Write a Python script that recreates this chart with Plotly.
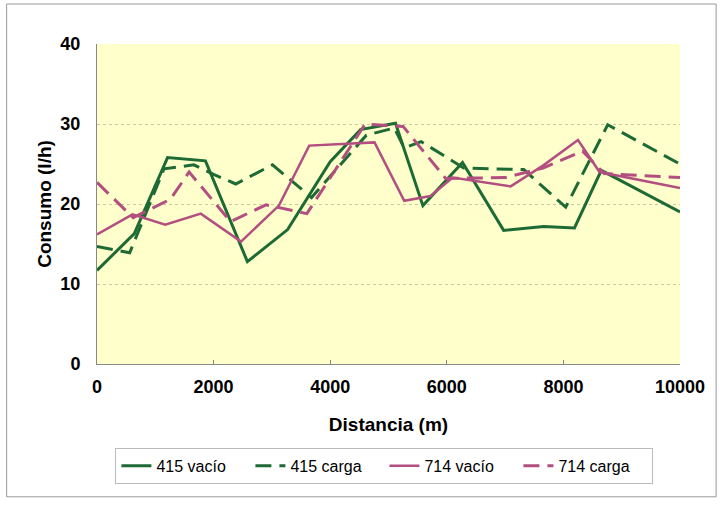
import plotly.graph_objects as go

# Data
x_415_vacio = [0, 640, 1210, 1860, 2580, 3270, 4000, 4520, 5120, 5590, 6270, 6975, 7660, 8190, 8650, 10000]
y_415_vacio = [11.7, 16.3, 25.8, 25.4, 12.8, 16.8, 25.3, 29.3, 30.1, 19.8, 25.2, 16.7, 17.2, 17.0, 24.2, 19.0]

x_415_carga = [0, 560, 1150, 1660, 2000, 2380, 3010, 3680, 4620, 5100, 5270, 5560, 6290, 7320, 8040, 8760, 10000]
y_415_carga = [14.7, 13.9, 24.4, 24.9, 23.7, 22.5, 24.9, 20.8, 28.6, 29.5, 27.0, 27.8, 24.5, 24.3, 19.6, 29.9, 25.0]

x_714_vacio = [0, 610, 1170, 1780, 2470, 3120, 3640, 4760, 5270, 5720, 6100, 7095, 7650, 8250, 8620, 10000]
y_714_vacio = [16.2, 18.7, 17.4, 18.8, 15.3, 19.8, 27.3, 27.7, 20.4, 21.0, 23.3, 22.2, 24.8, 28.0, 24.0, 22.0]

x_714_carga = [0, 620, 1260, 1580, 2290, 2900, 3600, 4600, 5250, 5980, 7000, 7650, 8330, 8700, 10000]
y_714_carga = [22.7, 18.3, 20.6, 24.0, 17.8, 19.9, 18.8, 30.0, 29.7, 23.2, 23.3, 24.5, 26.6, 23.8, 23.3]

series_names = ["415 vacío", "415 carga", "714 vacío", "714 carga"]
x_ticks = [0, 2000, 4000, 6000, 8000, 10000]
x_tick_text = ["0", "2000", "4000", "6000", "8000", "10000"]
y_ticks = [0, 10, 20, 30, 40]

GREEN = "#1e6a34"
PINK = "#b24f80"
DASH = "16px,8px"

fig = go.Figure()
fig.add_trace(go.Scatter(x=x_415_vacio, y=y_415_vacio, mode="lines", name=series_names[0],
                         line=dict(color=GREEN, width=3)))
fig.add_trace(go.Scatter(x=x_415_carga, y=y_415_carga, mode="lines", name=series_names[1],
                         line=dict(color=GREEN, width=3, dash=DASH)))
fig.add_trace(go.Scatter(x=x_714_vacio, y=y_714_vacio, mode="lines", name=series_names[2],
                         line=dict(color=PINK, width=2.5)))
fig.add_trace(go.Scatter(x=x_714_carga, y=y_714_carga, mode="lines", name=series_names[3],
                         line=dict(color=PINK, width=3, dash=DASH)))

font_family = "Liberation Sans, Arial, sans-serif"

fig.update_layout(
    width=720, height=507,
    margin=dict(l=97, r=40, t=44, b=143),
    paper_bgcolor="white",
    plot_bgcolor="#ffffcc",
    font=dict(family=font_family, size=17, color="black"),
    showlegend=True,
    legend=dict(
        orientation="h",
        x=0.493, xanchor="center",
        y=-0.318, yanchor="middle",
        bgcolor="white",
        bordercolor="#bbbbbb", borderwidth=1,
        font=dict(family=font_family, size=16, color="black"),
        entrywidth=89, entrywidthmode="pixels",
        tracegroupgap=0,
    ),
    xaxis=dict(
        range=[0, 10000],
        tickvals=x_ticks,
        ticktext=x_tick_text,
        tickfont=dict(family=font_family, size=18, color="black", weight="bold"),
        showgrid=False,
        zeroline=False,
        showline=True, linecolor="#888888", linewidth=1,
        ticks="inside", ticklen=4, tickcolor="#888888",
        ticklabelstandoff=6,
        title=dict(text="<b>Distancia (m)</b>", font=dict(family=font_family, size=19), standoff=22),
    ),
    yaxis=dict(
        range=[0, 40],
        tickvals=y_ticks,
        tickfont=dict(family=font_family, size=18, color="black", weight="bold"),
        showgrid=True, gridcolor="#c8c8a0", griddash="dot", gridwidth=1,
        zeroline=False,
        showline=True, linecolor="#888888", linewidth=1,
        ticks="",
        ticklabelstandoff=12,
        title=dict(text="<b>Consumo (l/h)</b>", font=dict(family=font_family, size=19), standoff=3),
    ),
    shapes=[
        dict(type="rect", xref="paper", yref="paper", x0=-0.155, x1=1.062, y0=-0.415, y1=1.125,
             line=dict(color="#999999", width=1), fillcolor="rgba(0,0,0,0)", layer="below"),
    ],
)

fig.write_html("out.html")
